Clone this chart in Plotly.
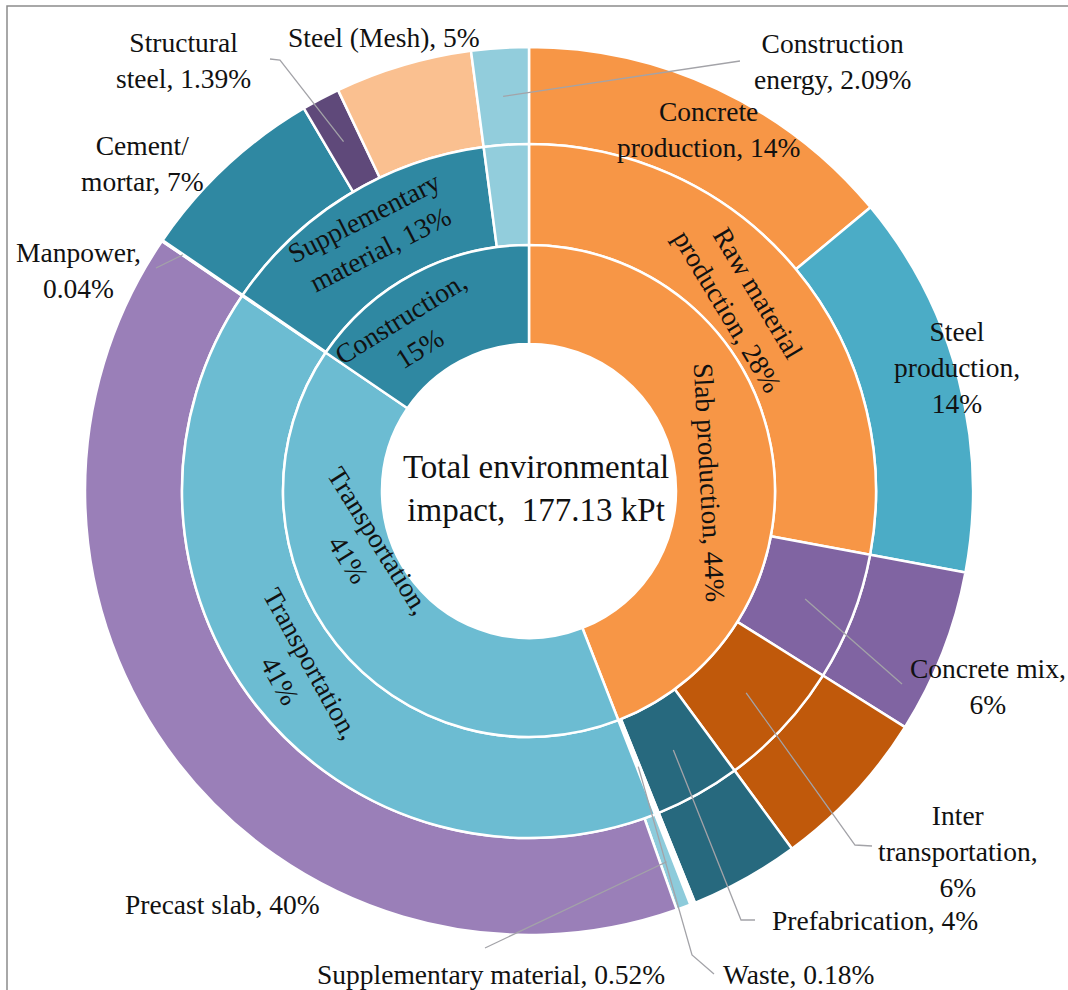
import math
import plotly.graph_objects as go

W, H = 1068, 990

# ---------------- data ----------------
leaf_labels = ["Concrete production", "Steel production", "Concrete mix", "Inter transportation",
               "Prefabrication", "Waste", "Supplementary material", "Precast slab", "Manpower",
               "Cement/mortar", "Structural steel", "Steel (Mesh)", "Construction energy"]
leaf_values = [14, 14, 6, 6, 4, 0.18, 0.52, 40, 0.04, 7, 1.39, 5, 2.09]
leaf_colors = ["#F79646", "#4BACC6", "#8064A2", "#C0590B", "#27697E", "#FFFFFF", "#8DCBDB",
               "#9A7FB8", "#FFFFFF", "#2F88A2", "#5F497A", "#FAC090", "#92CDDC"]

mid_group = ["Raw material production", "Raw material production", "Concrete mix",
             "Inter transportation", "Prefabrication", "Waste", "Transportation", "Transportation",
             "Manpower", "Supplementary material", "Supplementary material",
             "Supplementary material", "Construction energy"]
mid_color_map = {"Raw material production": "#F79646", "Concrete mix": "#8064A2",
                 "Inter transportation": "#C0590B", "Prefabrication": "#27697E", "Waste": "#FFFFFF",
                 "Transportation": "#6CBCD2", "Manpower": "#FFFFFF",
                 "Supplementary material": "#2F88A2", "Construction energy": "#92CDDC"}

inner_group = ["Slab production"] * 6 + ["Transportation"] * 2 + ["Construction"] * 5
inner_color_map = {"Slab production": "#F79646", "Transportation": "#6CBCD2",
                   "Construction": "#2F88A2"}

center_text = "Total environmental<br>impact,  177.13 kPt"

# ring labels: text, centre (px), rotation (deg)
ring_labels = [
    ("Raw material<br>production, 28%", 742, 302, 59),
    ("Slab production, 44%", 710, 482, 87),
    ("Supplementary<br>material, 13%", 372, 234, -27),
    ("Construction,<br>15%", 410, 334, -32),
    ("Transportation,<br>41%", 364, 550, 58),
    ("Transportation,<br>41%", 296, 672, 61),
]

# outside / slice labels: text, centre (px)
ext_labels = [
    ("Structural<br>steel, 1.39%", 183, 61),
    ("Steel (Mesh), 5%", 384, 37),
    ("Construction<br>energy, 2.09%", 832, 62),
    ("Concrete<br>production, 14%", 708, 129),
    ("Steel<br>production,<br>14%", 957, 367),
    ("Cement/<br>mortar, 7%", 142, 164),
    ("Manpower,<br>0.04%", 78, 270),
    ("Concrete mix,<br>6%", 988, 686),
    ("Inter<br>transportation,<br>6%", 958, 851),
    ("Prefabrication, 4%", 875, 920),
    ("Waste, 0.18%", 798, 974),
    ("Supplementary material, 0.52%", 491, 974),
    ("Precast slab, 40%", 222, 904),
]


def group(keys, vals):
    out_k, out_v = [], []
    for k, v in zip(keys, vals):
        if out_k and out_k[-1] == k:
            out_v[-1] += v
        else:
            out_k.append(k)
            out_v.append(v)
    return out_k, out_v


mid_labels, mid_values = group(mid_group, leaf_values)
inner_labels, inner_values = group(inner_group, leaf_values)

# ---------------- geometry (pixels) ----------------
CX, CY = 529, 491
R3, R2, R1, R0 = 444, 347, 246, 147


def domain(r):
    return dict(x=[(CX - r) / W, (CX + r) / W],
                y=[(H - CY - r) / H, (H - CY + r) / H])


FONT = "Times New Roman, Liberation Serif, serif"
TXT = "#111111"
FS = 27.5

fig = go.Figure()
common = dict(sort=False, direction="clockwise", rotation=0, textinfo="none",
              marker_line=dict(color="white", width=2.5), showlegend=False)

fig.add_trace(go.Pie(labels=leaf_labels, values=leaf_values, hole=R2 / R3, domain=domain(R3),
                     marker_colors=leaf_colors, **common))
fig.add_trace(go.Pie(labels=mid_labels, values=mid_values, hole=R1 / R2, domain=domain(R2),
                     marker_colors=[mid_color_map[k] for k in mid_labels], **common))
fig.add_trace(go.Pie(labels=inner_labels, values=inner_values, hole=R0 / R1, domain=domain(R1),
                     marker_colors=[inner_color_map[k] for k in inner_labels], **common))

total = sum(leaf_values)


def mid_angle(name):
    i = leaf_labels.index(name)
    cum = sum(leaf_values[:i]) + leaf_values[i] / 2
    return cum / total * 2 * math.pi


def polar_px(name, r):
    a = mid_angle(name)
    return CX + r * math.sin(a), CY - r * math.cos(a)


def P(x, y):
    return x / W, 1 - y / H


def add_text(t, x, y, size=FS, angle=0):
    px, py = P(x, y)
    fig.add_annotation(x=px, y=py, xref="paper", yref="paper", text=t, showarrow=False,
                       xanchor="center", yanchor="middle", textangle=angle,
                       font=dict(family=FONT, size=size, color=TXT), align="center")


for t, x, y, a in ring_labels:
    add_text(t, x, y, angle=a)
for t, x, y in ext_labels:
    add_text(t, x, y)
add_text(center_text, CX + 7, CY - 3, size=33)

# leader lines: slice, ring radius, tail points (px)
RM_OUT = (R2 + R3) / 2
RM_MID = (R1 + R2) / 2
leaders = [
    ("Structural steel", RM_OUT, [(270, 59), (280, 60)]),
    ("Construction energy", RM_OUT, [(740, 61)]),
    ("Manpower", 419, [(156, 268)]),
    ("Concrete mix", RM_MID, [(902, 684)]),
    ("Inter transportation", RM_MID, [(872, 846), (855, 845)]),
    ("Prefabrication", RM_MID, [(755, 920), (741, 920)]),
    ("Waste", RM_MID, [(714, 974), (692, 955)]),
    ("Supplementary material", RM_OUT, [(485, 948)]),
]
shapes = []
for name, r, tail in leaders:
    pts = tail + [polar_px(name, r)]
    path = "M " + " L ".join("%.5f,%.5f" % P(x, y) for x, y in pts)
    shapes.append(dict(type="path", xref="paper", yref="paper", path=path,
                       line=dict(color="#A3A3A8", width=1.3)))

shapes.append(dict(type="rect", xref="paper", yref="paper", x0=7 / W, y0=1 - 6 / H,
                   x1=1.02, y1=-0.02, line=dict(color="#8C8C8C", width=1.5)))

fig.update_layout(width=W, height=H, margin=dict(l=0, r=0, t=0, b=0),
                  paper_bgcolor="white", plot_bgcolor="white", shapes=shapes,
                  font=dict(family=FONT))

fig.write_html("out.html", config={"displayModeBar": False},
               post_script="document.body.style.margin='0px';")
